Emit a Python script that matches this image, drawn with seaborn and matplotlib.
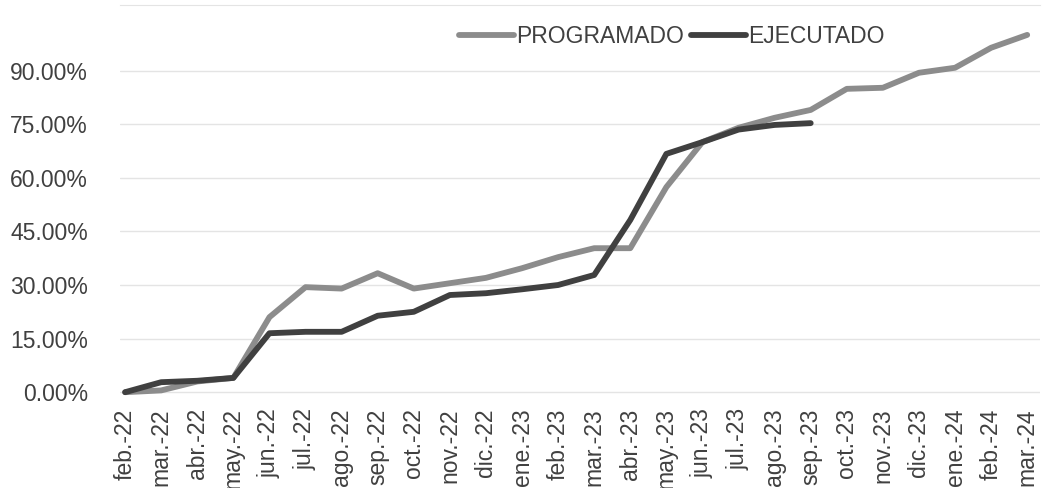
import matplotlib.pyplot as plt
import numpy as np
import pandas as pd
import seaborn as sns

meses = ['feb.-22', 'mar.-22', 'abr.-22', 'may.-22', 'jun.-22', 'jul.-22', 'ago.-22',
         'sep.-22', 'oct.-22', 'nov.-22', 'dic.-22', 'ene.-23', 'feb.-23', 'mar.-23',
         'abr.-23', 'may.-23', 'jun.-23', 'jul.-23', 'ago.-23', 'sep.-23', 'oct.-23',
         'nov.-23', 'dic.-23', 'ene.-24', 'feb.-24', 'mar.-24']
programado = [0.0, 0.5, 3.0, 4.0, 21.0, 29.4, 29.0, 33.3, 29.0, 30.5, 32.0, 34.7, 37.8,
              40.3, 40.3, 57.4, 70.0, 74.0, 76.8, 79.0, 84.9, 85.2, 89.4, 90.8, 96.4, 100.0]
ejecutado = [0.0, 2.8, 3.2, 4.0, 16.5, 16.9, 16.9, 21.4, 22.5, 27.2, 27.7, 28.8, 30.0,
             32.8, 48.2, 66.7, 70.0, 73.5, 74.8, 75.3]
yticks = [0, 15, 30, 45, 60, 75, 90]

df = pd.concat([
    pd.DataFrame({'mes': np.arange(len(programado)), 'valor': programado, 'serie': 'PROGRAMADO'}),
    pd.DataFrame({'mes': np.arange(len(ejecutado)), 'valor': ejecutado, 'serie': 'EJECUTADO'}),
])

sns.set_style('white')
plt.rcParams['font.family'] = ['Liberation Sans', 'DejaVu Sans']

fig = plt.figure(figsize=(10.44, 4.88), dpi=100, facecolor='white')
ax = fig.add_axes([0.115, 0.189, 0.881, 0.801])

sns.lineplot(data=df, x='mes', y='valor', hue='serie', ax=ax,
             palette={'PROGRAMADO': '#8c8c8c', 'EJECUTADO': '#404040'},
             linewidth=4.2, zorder=3)

# a little room on the right so the last month label is not clipped
ax.set_xlim(-0.14, 25.35)
ax.set_ylim(-1, 108.4)
ax.set_yticks(yticks)
ax.set_yticklabels([f'{v:.2f}%' for v in yticks], fontsize=16.5, color='#404040')
ax.set_xticks(range(len(meses)))
ax.set_xticklabels(meses, rotation=90, fontsize=16.5, color='#404040')
ax.tick_params(axis='y', length=0, pad=23)
ax.tick_params(axis='x', length=0, pad=9)
ax.grid(axis='y', color='#e4e4e4', linewidth=1)
ax.set_xlabel('')
ax.set_ylabel('')
for s in ['left', 'right', 'bottom']:
    ax.spines[s].set_visible(False)
ax.spines['top'].set_color('#e4e4e4')

ax.legend(loc='center', bbox_to_anchor=(0.6, 0.92), ncol=2, frameon=False,
          fontsize=16.5, handlelength=2.4, handletextpad=0.1, columnspacing=0.3,
          labelcolor='#404040')

fig.savefig('out.png', dpi=100, facecolor='white')
